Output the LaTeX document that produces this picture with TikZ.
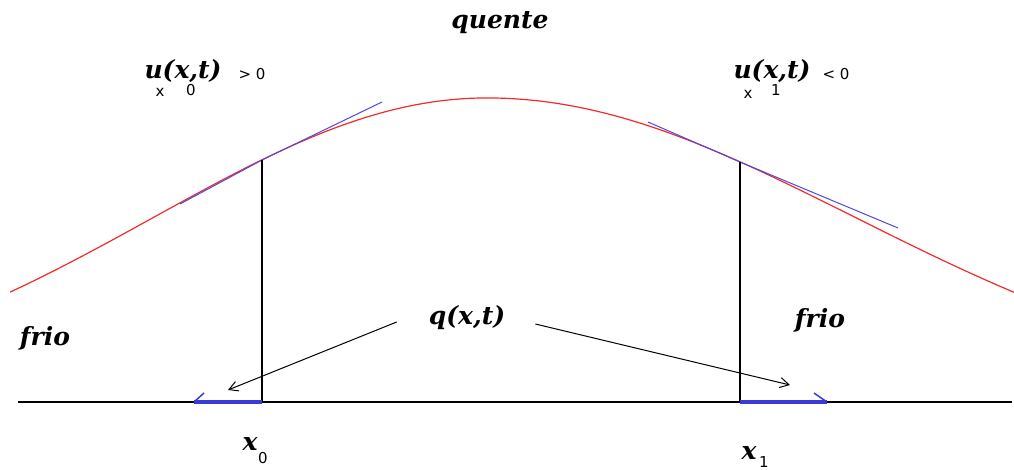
\documentclass[tikz,border=0pt]{standalone}
\usepackage{fontspec}
\setmainfont{DejaVu Serif}
\newfontfamily\labsans{DejaVu Sans}
\usetikzlibrary{arrows.meta}
\definecolor{curvered}{HTML}{F42A2A}
\definecolor{tanblue}{HTML}{4A4AE0}
\definecolor{fluxblue}{HTML}{3A3AD6}

\begin{document}
\begin{tikzpicture}[x=1pt,y=-1pt,
lab/.style={inner sep=0pt,font=\fontsize{25}{30}\selectfont\bfseries\itshape},
sub/.style={inner sep=0pt,font=\fontsize{15}{18}\selectfont\labsans},
tan/.style={draw=tanblue,line width=1pt},
flux/.style={draw=fluxblue,line width=4pt},
barb/.style={draw=fluxblue,line width=1.5pt},
arr/.style={-{Straight Barb[length=9pt,width=10pt]},line width=1pt}]
\useasboundingbox (0,0) rectangle (1014,470);
% temperature profile
\draw[curvered,line width=1.2pt,domain=10:487,samples=60] plot (\x,{400-302*exp(-((\x-487)/470)^2)});
\draw[curvered,line width=1.2pt,domain=487:1014,samples=60] plot (\x,{400-302*exp(-((\x-487)/519)^2)});
\coordinate (p0) at (262,160); \coordinate (p1) at (740,162);
\coordinate (f0) at (262,402); \coordinate (f1) at (740,402);
\coordinate (t0) at (194,402); \coordinate (t1) at (827,402);
\coordinate (ax0) at (18,402); \coordinate (ax1) at (1012,402);
\draw[tan] (180,204) -- (p0) -- (382,102);
\draw[tan] (648,122) -- (p1) -- (898,228);
\draw[line width=1.2pt] (ax0) -- (ax1);
\draw[line width=1.2pt] (p0) -- (f0); \draw[line width=1.2pt] (p1) -- (f1);
% flux at the ends
\draw[flux] (f0) -- (t0); \draw[barb] (t0) -- ++(10,-9);
\draw[flux] (f1) -- (t1); \draw[barb] (t1) -- ++(-13,-9);
% labels
\node[lab] (hot) at (500,23) {quente};
\node[lab] (ul) at (183,71) {u(x,t)};
\node[sub] (ulx) at (160,92) {x};
\node[sub] (ul0) at (191,90) {0};
\node[sub] (ulg) at (252,74) {> 0};
\node[lab] (ur) at (772,71) {u(x,t)};
\node[sub] (urx) at (748,94) {x};
\node[sub] (ur1) at (776,90) {1};
\node[sub] (urg) at (836,74) {< 0};
\node[lab] (q) at (467,318) {q(x,t)};
\node[lab] (cold0) at (45,338) {frio};
\node[lab] (cold1) at (820,320) {frio};
\node[lab] (x0) at (250,444) {x};
\node[sub] (x0s) at (263,458) {0};
\node[lab] (x1) at (749,453) {x};
\node[sub] (x1s) at (764,462) {1};
\coordinate (q0) at (228,390); \coordinate (q1) at (790,385);
\draw[arr] (q.west) ++(-32,4) -- (q0);
\draw[arr] (q.east) ++(30,6) -- (q1);
\end{tikzpicture}
\end{document}
